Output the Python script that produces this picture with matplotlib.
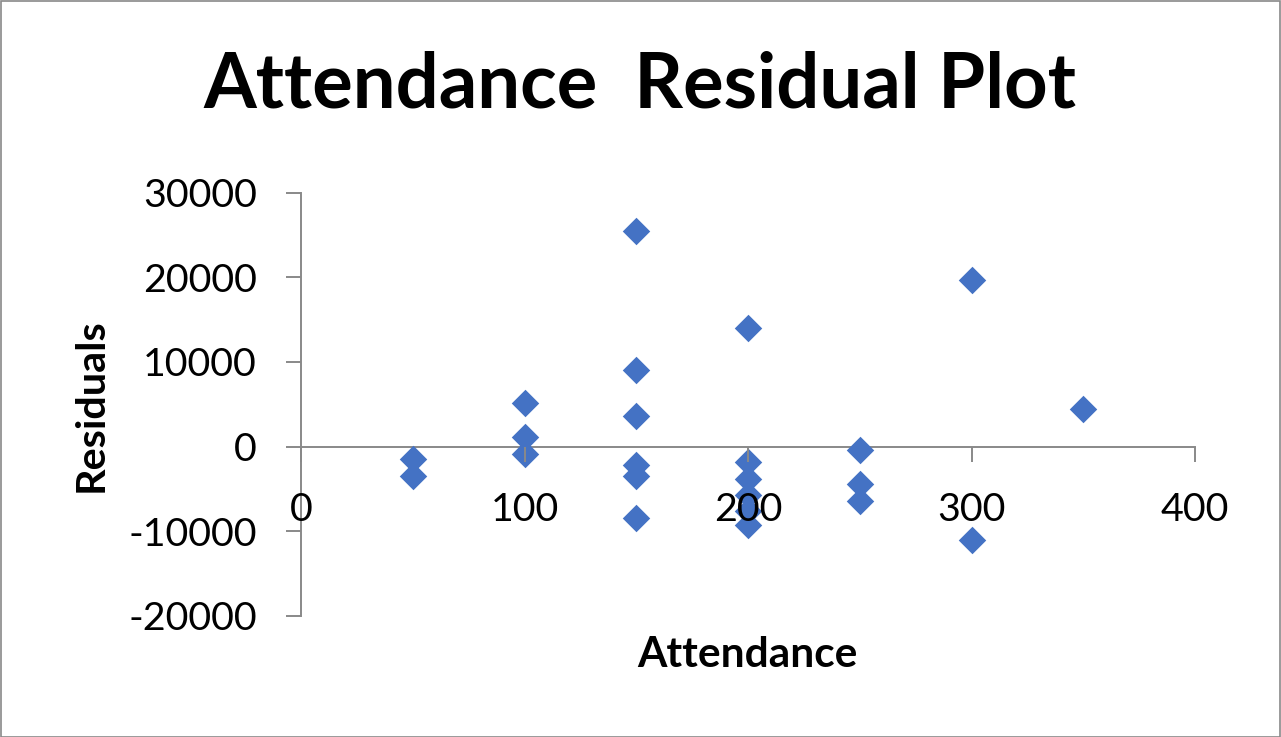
import matplotlib
matplotlib.use("Agg")
import matplotlib.pyplot as plt
from matplotlib.patches import Rectangle

# ---- data ----
attendance = [50, 50,
              100, 100, 100,
              150, 150, 150, 150, 150, 150,
              200, 200, 200, 200, 200, 200,
              250, 250, 250,
              300, 300,
              350]
residuals = [-1450, -3430,
             5130, 1110, -860,
             25490, 9070, 3550, -2160, -3460, -8460,
             14030, -1890, -3850, -5710, -7600, -9250,
             -470, -4440, -6420,
             19700, -11030,
             4490]
x_ticks = [0, 100, 200, 300, 400]
y_ticks = [-20000, -10000, 0, 10000, 20000, 30000]
title = "Attendance  Residual Plot"
x_label = "Attendance"
y_label = "Residuals"

W, H = 1281, 737
FONT = ["Lato", "DejaVu Sans"]
GRAY = "#898989"
BLUE = "#4472C4"

fig = plt.figure(figsize=(W / 100, H / 100), dpi=100)
fig.patch.set_facecolor("white")

# outer chart border
fig.add_artist(Rectangle((0.5 / W, 0.5 / H), 1 - 1.5 / W, 1 - 1.5 / H,
                         transform=fig.transFigure, fill=False,
                         edgecolor=GRAY, linewidth=1.2))

# plot area in pixels
left, right, top, bottom = 301, 1195, 192.7, 615.7
ax = fig.add_axes([left / W, 1 - bottom / H, (right - left) / W, (bottom - top) / H])
ax.set_xlim(0, 400)
ax.set_ylim(-20000, 30000)
ax.set_facecolor("none")

ax.scatter(attendance, residuals, marker="D", s=14 ** 2, color=BLUE,
           linewidths=0, zorder=2, clip_on=False)

for s in ["top", "right"]:
    ax.spines[s].set_visible(False)
ax.spines["bottom"].set_position(("data", 0))
for s in ["left", "bottom"]:
    ax.spines[s].set_color(GRAY)
    ax.spines[s].set_linewidth(1.4)
    ax.spines[s].set_zorder(1.5)

ax.set_xticks(x_ticks)
ax.set_yticks(y_ticks)
ax.set_xticklabels([str(v) for v in x_ticks])
ax.set_yticklabels([str(v) for v in y_ticks])
ax.xaxis.set_zorder(2.5)
ax.yaxis.set_zorder(2.5)

renderer = fig.canvas.get_renderer()


def fit_size(text, target_px, weight="normal", base=20):
    t = fig.text(0, 0, text, fontsize=base, family=FONT, weight=weight)
    w = t.get_window_extent(renderer=renderer).width
    t.remove()
    return base * target_px / w


tick_size = fit_size("30000", 114)
ax.tick_params(axis="both", direction="out", length=10.8, width=1.4,
               color=GRAY, labelsize=tick_size, labelcolor="black")
ax.tick_params(axis="y", pad=21)
ax.tick_params(axis="x", pad=22)
for lab in ax.get_xticklabels() + ax.get_yticklabels():
    lab.set_family(FONT)

title_size = fit_size(title, 874, weight="bold")
fig.text(640 / W, 1 - 108 / H, title, fontsize=title_size, family=FONT,
         weight="bold", ha="center", va="baseline")

xl_size = fit_size(x_label, 220, weight="bold")
fig.text(747 / W, 1 - 667 / H, x_label, fontsize=xl_size, family=FONT,
         weight="bold", ha="center", va="baseline")

yl_size = fit_size(y_label, 174, weight="bold")
fig.text(103 / W, 1 - 405 / H, y_label, fontsize=yl_size, family=FONT,
         weight="bold", rotation=90, rotation_mode="anchor",
         ha="center", va="baseline")

fig.savefig("out.png", dpi=100, facecolor="white")
